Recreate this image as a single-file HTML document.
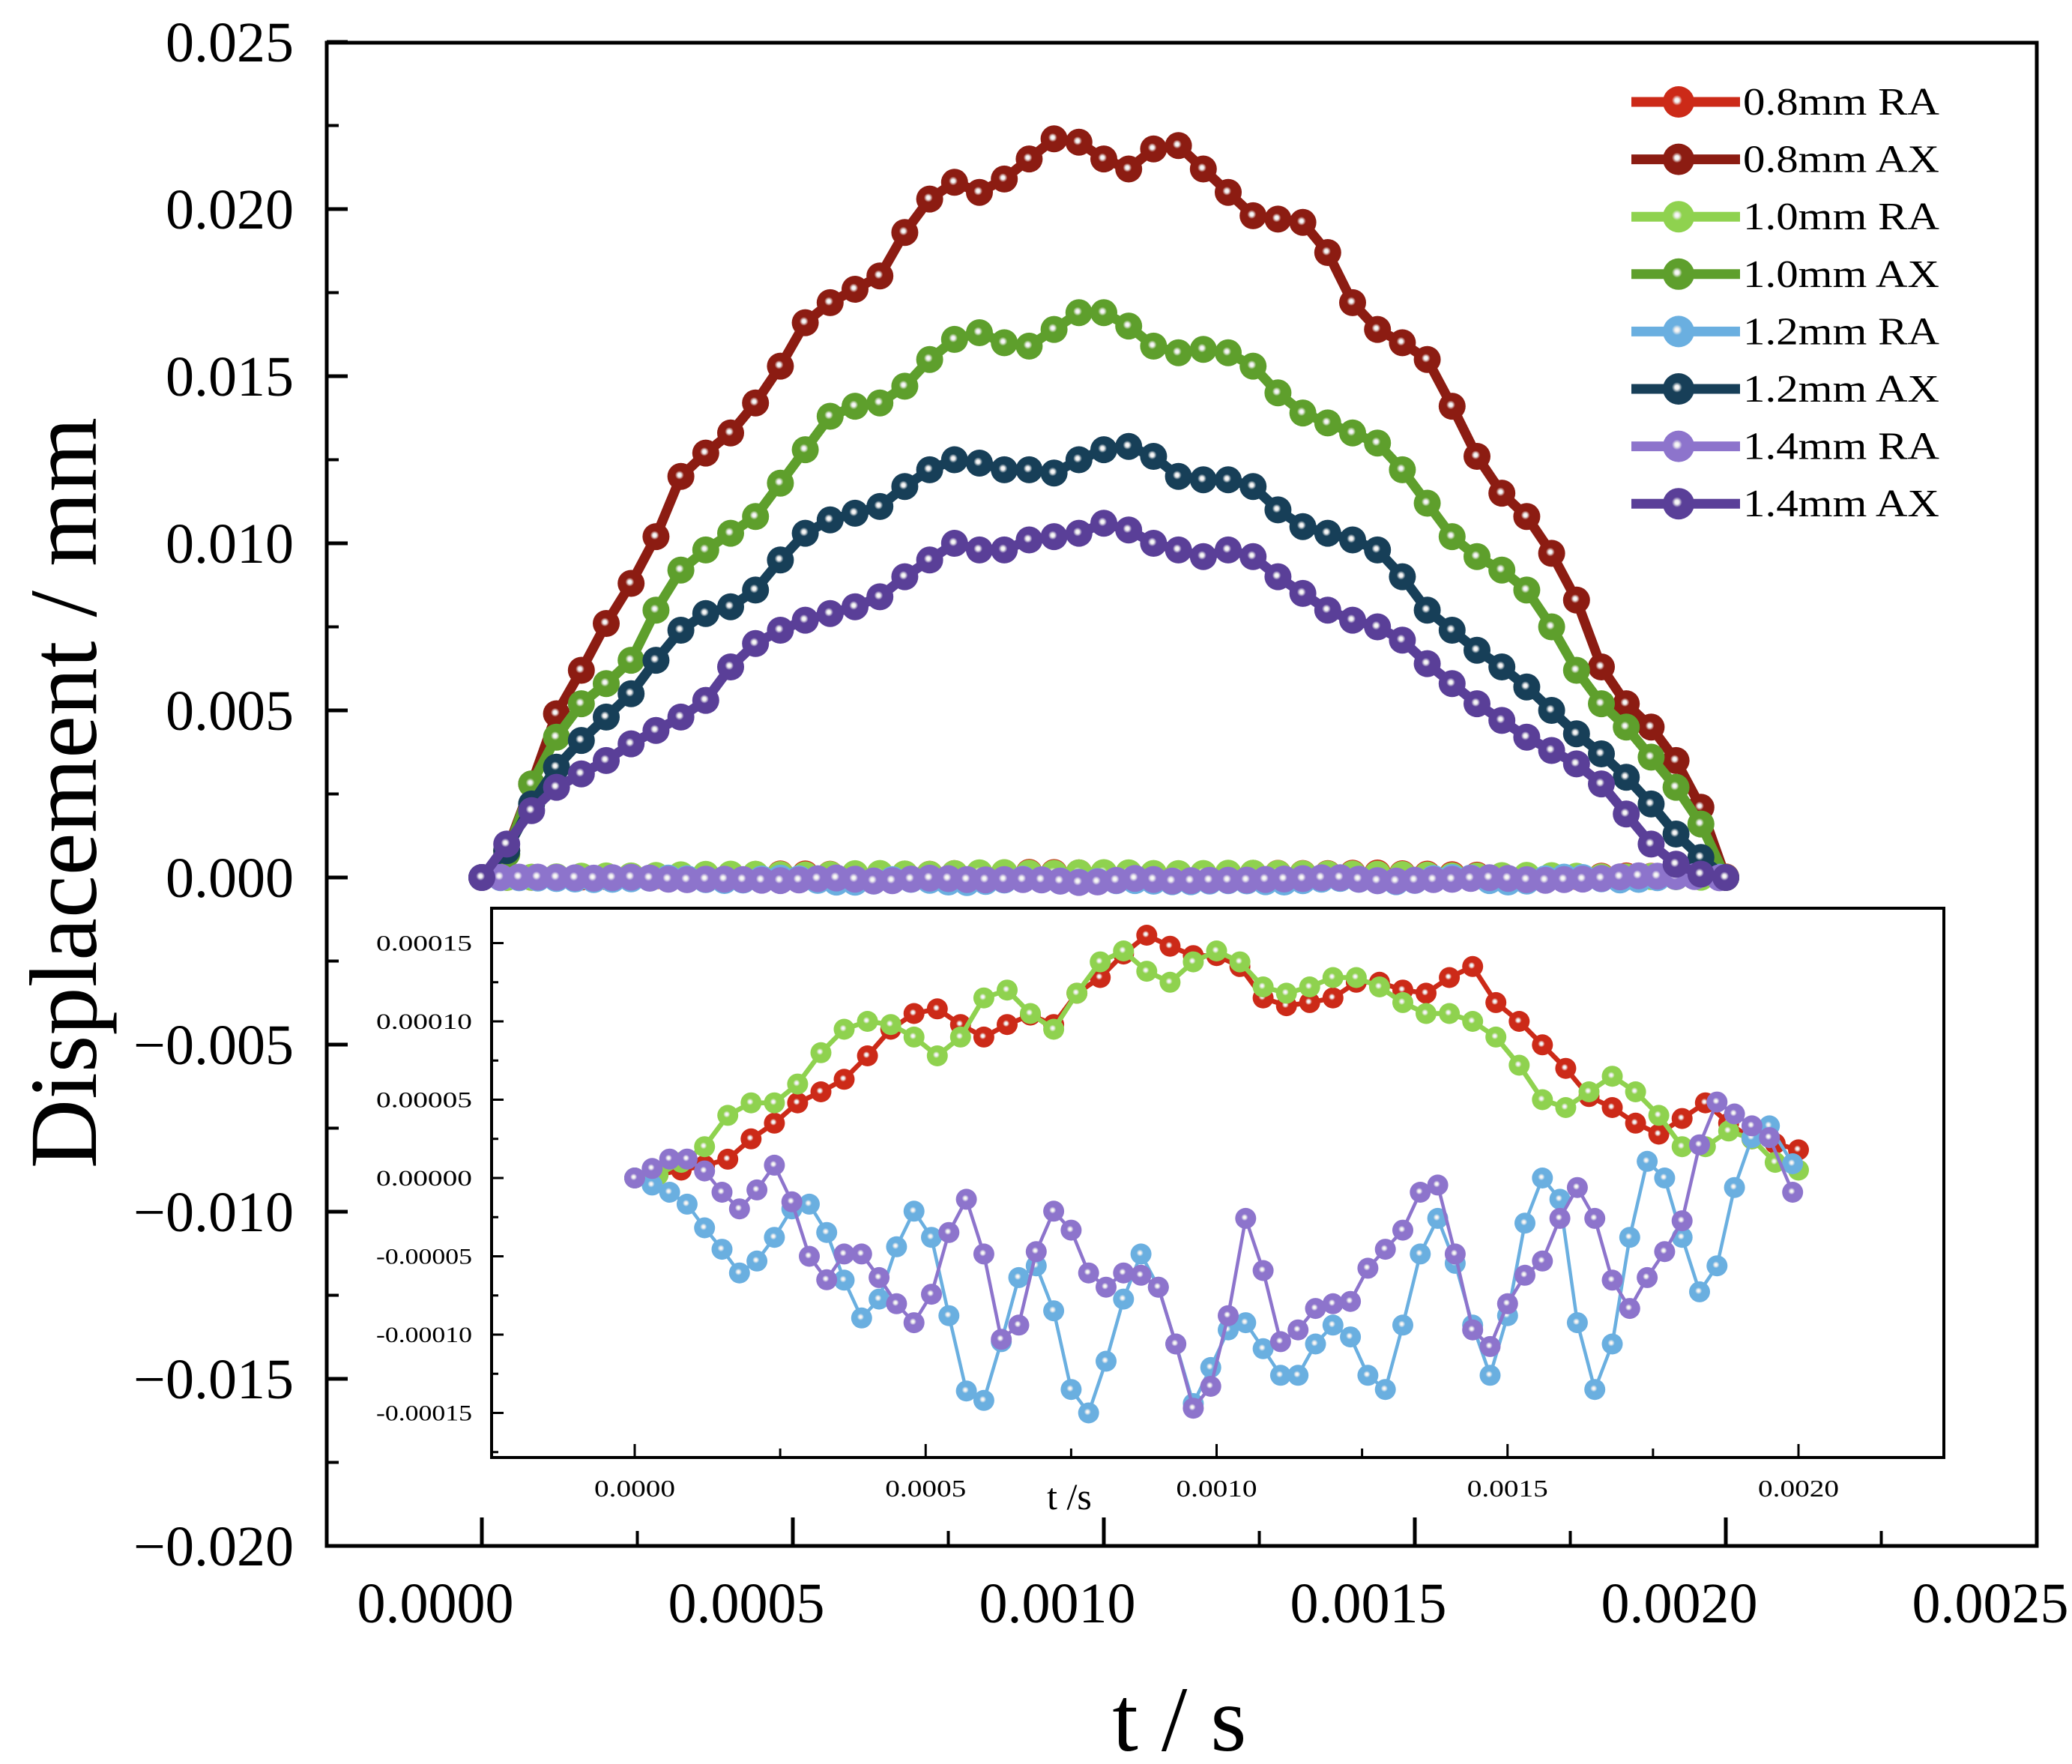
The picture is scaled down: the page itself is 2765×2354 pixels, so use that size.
<!DOCTYPE html>
<html><head><meta charset="utf-8"><style>
html,body{margin:0;padding:0;background:#fff;}
svg{display:block;}
</style></head><body>
<svg id="chart" xmlns="http://www.w3.org/2000/svg" width="2765" height="2354" viewBox="0 0 2765 2354" font-family="'Liberation Serif', serif">
<rect x="0" y="0" width="2765" height="2354" fill="#fff"/>
<defs id="defs"></defs>
<g id="main-series"></g>
<g id="main-axes"></g>
<g id="inset"></g>
<g id="legend"></g>
<text x="1574" y="2336" font-size="124" text-anchor="middle">t / s</text>
<text transform="translate(128,1058) rotate(-90)" font-size="128" text-anchor="middle">Displacement / mm</text>
</svg>
<script>
// ---- main plot data (time grid, seconds) ----
const mainTime = [0,0.00004,0.00008,0.00012,0.00016,0.0002,0.00024,0.00028,0.00032,0.00036,0.0004,0.00044,0.00048,0.00052,0.00056,0.0006,0.00064,0.00068,0.00072,0.00076,0.0008,0.00084,0.00088,0.00092,0.00096,0.001,0.00104,0.00108,0.00112,0.00116,0.0012,0.00124,0.00128,0.00132,0.00136,0.0014,0.00144,0.00148,0.00152,0.00156,0.0016,0.00164,0.00168,0.00172,0.00176,0.0018,0.00184,0.00188,0.00192,0.00196,0.002];
const ax08 = [0,0.0008,0.0028,0.0049,0.0062,0.0076,0.0088,0.0102,0.0120,0.0127,0.0133,0.0142,0.0153,0.0166,0.0172,0.0176,0.0180,0.0193,0.0203,0.0208,0.0205,0.0209,0.0215,0.0221,0.0220,0.0215,0.0212,0.0218,0.0219,0.0212,0.0205,0.0198,0.0197,0.0196,0.0187,0.0172,0.0164,0.0160,0.0155,0.0141,0.0126,0.0115,0.0108,0.0097,0.0083,0.0063,0.0052,0.0045,0.0035,0.0021,0];
const ax10 = [0,0.0007,0.0028,0.0042,0.0052,0.0058,0.0065,0.0080,0.0092,0.0098,0.0103,0.0108,0.0118,0.0128,0.0138,0.0141,0.0142,0.0147,0.0155,0.0161,0.0163,0.0160,0.0159,0.0164,0.0169,0.0169,0.0165,0.0159,0.0157,0.0158,0.0157,0.0153,0.0145,0.0139,0.0136,0.0133,0.0130,0.0122,0.0112,0.0102,0.0096,0.0092,0.0086,0.0075,0.0062,0.0052,0.0045,0.0036,0.0027,0.0016,0];
const ax12 = [0,0.0008,0.0022,0.0033,0.0041,0.0048,0.0055,0.0065,0.0074,0.0079,0.0081,0.0086,0.0095,0.0103,0.0107,0.0109,0.0111,0.0117,0.0122,0.0125,0.0124,0.0122,0.0122,0.0121,0.0125,0.0128,0.0129,0.0126,0.0120,0.0119,0.0119,0.0117,0.0110,0.0105,0.0103,0.0101,0.0098,0.0090,0.0080,0.0074,0.0068,0.0063,0.0057,0.0050,0.0043,0.0037,0.0030,0.0022,0.0013,0.0006,0];
const ax14 = [0,0.0010,0.0020,0.0027,0.0031,0.0035,0.0040,0.0044,0.0048,0.0053,0.0063,0.0070,0.0074,0.0077,0.0079,0.0081,0.0084,0.0090,0.0095,0.0100,0.0098,0.0098,0.0101,0.0102,0.0103,0.0106,0.0104,0.0100,0.0098,0.0096,0.0098,0.0096,0.0090,0.0085,0.0080,0.0077,0.0075,0.0071,0.0064,0.0058,0.0052,0.0047,0.0042,0.0038,0.0034,0.0028,0.0019,0.0010,0.0004,0.0001,0];
const ra08 = [0,0.000002,0.000005,0.000008,0.000012,0.000025,0.000035,0.000048,0.000055,0.000063,0.000078,0.000095,0.000105,0.000108,0.000098,0.00009,0.000098,0.000104,0.000098,0.000118,0.000128,0.000143,0.000155,0.000148,0.000142,0.000142,0.000135,0.000115,0.00011,0.000112,0.000115,0.000125,0.000125,0.00012,0.000118,0.000128,0.000135,0.000112,0.0001,0.000085,0.00007,0.000052,0.000045,0.000035,0.000028,0.000038,0.000048,0.000035,0.000025,0.000022,0.000018];
const ra10 = [0,0.000002,0.00001,0.00002,0.00004,0.000048,0.000048,0.00006,0.00008,0.000095,0.0001,0.000098,0.00009,0.000078,0.00009,0.000115,0.00012,0.000105,0.000095,0.000118,0.000138,0.000145,0.000132,0.000125,0.000138,0.000145,0.000138,0.000122,0.000118,0.000122,0.000128,0.000128,0.000122,0.000112,0.000105,0.000105,0.0001,0.00009,0.000072,0.00005,0.000045,0.000055,0.000065,0.000055,0.00004,0.00002,0.00002,0.00003,0.000025,0.00001,0.000005];
const oscTime = [0,0.00003,0.00006,0.00009,0.00012,0.00015,0.00018,0.00021,0.00024,0.00027,0.0003,0.00033,0.00036,0.00039,0.00042,0.00045,0.00048,0.00051,0.00054,0.00057,0.0006,0.00063,0.00066,0.00069,0.00072,0.00075,0.00078,0.00081,0.00084,0.00087,0.0009,0.00093,0.00096,0.00099,0.00102,0.00105,0.00108,0.00111,0.00114,0.00117,0.0012,0.00123,0.00126,0.00129,0.00132,0.00135,0.00138,0.00141,0.00144,0.00147,0.0015,0.00153,0.00156,0.00159,0.00162,0.00165,0.00168,0.00171,0.00174,0.00177,0.0018,0.00183,0.00186,0.00189,0.00192,0.00195,0.00199];
const ra14e5 = [0,0.61,1.21,1.21,0.45,-0.91,-1.97,-0.76,0.82,-1.52,-5.0,-6.5,-4.85,-4.85,-6.36,-8.03,-9.24,-7.42,-3.48,-1.36,-4.85,-10.3,-9.39,-4.7,-2.12,-3.33,-6.06,-6.97,-6.06,-6.21,-6.97,-10.6,-14.7,-13.3,-8.79,-2.58,-5.91,-10.45,-9.7,-8.33,-8.03,-7.88,-5.76,-4.55,-3.33,-0.91,-0.45,-4.85,-9.7,-10.76,-8.03,-6.21,-5.3,-2.58,-0.61,-2.58,-6.52,-8.33,-6.36,-4.7,-2.73,2.12,4.85,4.09,3.33,2.58,-0.91];
const ra12e5 = [0,-0.45,-0.91,-1.67,-3.18,-4.55,-6.06,-5.3,-3.79,-1.97,-1.67,-3.48,-6.52,-8.94,-7.73,-4.39,-2.12,-3.79,-8.79,-13.6,-14.2,-10.45,-6.36,-5.61,-8.48,-13.5,-15.0,-11.7,-7.73,-4.85,-6.97,-10.6,-14.4,-12.1,-9.7,-9.24,-10.9,-12.6,-12.6,-10.6,-9.39,-10.15,-12.6,-13.5,-9.39,-4.85,-2.58,-5.45,-9.39,-12.6,-8.79,-2.88,0,-1.36,-9.24,-13.5,-10.6,-3.79,1.06,0,-3.79,-7.27,-5.61,-0.61,2.58,3.33,0.91];
const legendLabels = ["0.8mm RA","0.8mm AX","1.0mm RA","1.0mm AX","1.2mm RA","1.2mm AX","1.4mm RA","1.4mm AX"];
const mainYTicks = [0.025,0.020,0.015,0.010,0.005,0.000,-0.005,-0.010,-0.015,-0.020];
const mainYLabels = ["0.025","0.020","0.015","0.010","0.005","0.000","\u22120.005","\u22120.010","\u22120.015","\u22120.020"];
const mainXTicks = [0,0.0005,0.001,0.0015,0.002,0.0025];
const mainXLabels = ["0.0000","0.0005","0.0010","0.0015","0.0020","0.0025"];
const insetYTicks = [0.00015,0.0001,0.00005,0,-0.00005,-0.0001,-0.00015];
const insetYLabels = ["0.00015","0.00010","0.00005","0.00000","-0.00005","-0.00010","-0.00015"];
const insetXTicks = [0,0.0005,0.001,0.0015,0.002];
const insetXLabels = ["0.0000","0.0005","0.0010","0.0015","0.0020"];

const NS = "http://www.w3.org/2000/svg";
function mk(tag, attrs, parent){const e=document.createElementNS(NS,tag);for(const k in attrs)e.setAttribute(k,attrs[k]);if(parent)parent.appendChild(e);return e;}
const MX0=643, MXK=830000, MY0=1171, MYK=44600;
const mx=t=>MX0+t*MXK, my=v=>MY0-v*MYK;
const IX0=847, IXK=776500, IY0=1572, IYK=2090000;
const ix=t=>IX0+t*IXK, iy=v=>IY0-v*IYK;

const colors={ra08:"#cc2a18",ax08:"#8c1c12",ra10:"#8fd24f",ax10:"#5e9f2c",ra12:"#6aafe0",ax12:"#173f58",ra14:"#8d74cc",ax14:"#5a3f98"};
const legendColors=[colors.ra08,colors.ax08,colors.ra10,colors.ax10,colors.ra12,colors.ax12,colors.ra14,colors.ax14];
const defs=document.getElementById('defs');
legendColors.forEach((c,i)=>{
  const g=mk('radialGradient',{id:'g'+i,cx:'45%',cy:'45%',r:'55%'},defs);
  mk('stop',{offset:'0%','stop-color':'#ffffff'},g);
  mk('stop',{offset:'12%','stop-color':'#eeeeee'},g);
  mk('stop',{offset:'30%','stop-color':c},g);
  mk('stop',{offset:'100%','stop-color':c},g);
});

function drawSeries(parent, ts, vs, fx, fy, ci, lw, r, name){
  const g=mk('g',{},parent);
  
  
  const n=Math.min(ts.length,vs.length);
  let d='';
  for(let i=0;i<n;i++){d+=(i?'L':'M')+fx(ts[i]).toFixed(1)+','+fy(vs[i]).toFixed(1);}
  const p=mk('path',{d:d,fill:'none',stroke:legendColors[ci],'stroke-width':lw,'stroke-linejoin':'round'},g);
  
  
  for(let i=0;i<n;i++){
    const c=mk('circle',{cx:fx(ts[i]).toFixed(1),cy:fy(vs[i]).toFixed(1),r:r,fill:'url(#g'+ci+')'},g);
    
    
  }
}
const ra14 = ra14e5.map(v=>v*1e-5), ra12 = ra12e5.map(v=>v*1e-5);

const ms=document.getElementById('main-series');
drawSeries(ms, mainTime, ra08, mx, my, 0, 13, 18, 'series-0.8mm-ra');
drawSeries(ms, mainTime, ax08, mx, my, 1, 13, 18, 'series-0.8mm-ax');
drawSeries(ms, mainTime, ra10, mx, my, 2, 13, 18, 'series-1.0mm-ra');
drawSeries(ms, mainTime, ax10, mx, my, 3, 13, 18, 'series-1.0mm-ax');
drawSeries(ms, oscTime, ra12, mx, my, 4, 13, 18, 'series-1.2mm-ra');
drawSeries(ms, mainTime, ax12, mx, my, 5, 13, 18, 'series-1.2mm-ax');
drawSeries(ms, oscTime, ra14, mx, my, 6, 13, 18, 'series-1.4mm-ra');
drawSeries(ms, mainTime, ax14, mx, my, 7, 13, 18, 'series-1.4mm-ax');

const ma=document.getElementById('main-axes');
const fr=mk('rect',{x:436,y:57,width:2282,height:2006,fill:'none',stroke:'#000','stroke-width':5},ma);


mainYTicks.forEach((v,i)=>{
  mk('line',{x1:436,y1:my(v),x2:464,y2:my(v),stroke:'#000','stroke-width':5},ma);
  if(i<mainYTicks.length-1){const mv=v-0.0025;mk('line',{x1:436,y1:my(mv),x2:452,y2:my(mv),stroke:'#000','stroke-width':4},ma);}
  const t=mk('text',{x:392,y:my(v)+26,'font-size':76,'text-anchor':'end'},ma);
  t.textContent=mainYLabels[i];
  
  
});
mainXTicks.forEach((v,i)=>{
  if(i<mainXTicks.length-1){
    mk('line',{x1:mx(v),y1:2063,x2:mx(v),y2:2025,stroke:'#000','stroke-width':5},ma);
    mk('line',{x1:mx(v+0.00025),y1:2063,x2:mx(v+0.00025),y2:2043,stroke:'#000','stroke-width':4},ma);
  }
  const t=mk('text',{x:mx(v)-62,y:2165,'font-size':76,'text-anchor':'middle'},ma);
  t.textContent=mainXLabels[i];
  
  
});

const ins=document.getElementById('inset');
const ib=mk('rect',{x:656,y:1212,width:1938,height:733,fill:'#fff',stroke:'#000','stroke-width':4},ins);


insetYTicks.forEach((v,i)=>{
  mk('line',{x1:656,y1:iy(v),x2:672,y2:iy(v),stroke:'#000','stroke-width':3},ins);
  mk('line',{x1:656,y1:iy(v-0.000025),x2:665,y2:iy(v-0.000025),stroke:'#000','stroke-width':3},ins);
  const t=mk('text',{x:630,y:iy(v)+10,'font-size':30,'text-anchor':'end',textLength:128,lengthAdjust:'spacingAndGlyphs'},ins);
  t.textContent=insetYLabels[i];
  
  
});
insetXTicks.forEach((v,i)=>{
  mk('line',{x1:ix(v),y1:1945,x2:ix(v),y2:1927,stroke:'#000','stroke-width':3},ins);
  mk('line',{x1:ix(v+0.00025),y1:1945,x2:ix(v+0.00025),y2:1933,stroke:'#000','stroke-width':3},ins);
  const t=mk('text',{x:ix(v),y:1997,'font-size':32,'text-anchor':'middle',textLength:108,lengthAdjust:'spacingAndGlyphs'},ins);
  t.textContent=insetXLabels[i];
  
  
});
const it=mk('text',{x:1427,y:2014,'font-size':50,'text-anchor':'middle'},ins);
it.textContent='t /s';


drawSeries(ins, mainTime, ra08, ix, iy, 0, 6.5, 14, 'inset-series-0.8mm-ra');
drawSeries(ins, mainTime, ra10, ix, iy, 2, 6.5, 14, 'inset-series-1.0mm-ra');
drawSeries(ins, oscTime, ra12, ix, iy, 4, 4.5, 14, 'inset-series-1.2mm-ra');
drawSeries(ins, oscTime, ra14, ix, iy, 6, 4.5, 14, 'inset-series-1.4mm-ra');

const lg=document.getElementById('legend');
legendLabels.forEach((lab,i)=>{
  const y=136+i*76.6;
  const e=mk('g',{},lg);
  
  
  mk('line',{x1:2177,y1:y,x2:2322,y2:y,stroke:legendColors[i],'stroke-width':13},e);
  mk('circle',{cx:2240,cy:y,r:21,fill:'url(#g'+i+')'},e);
  const t=mk('text',{x:2326,y:y+17,'font-size':52,textLength:262,lengthAdjust:'spacingAndGlyphs'},e);
  t.textContent=lab;
});
</script>
</body></html>
